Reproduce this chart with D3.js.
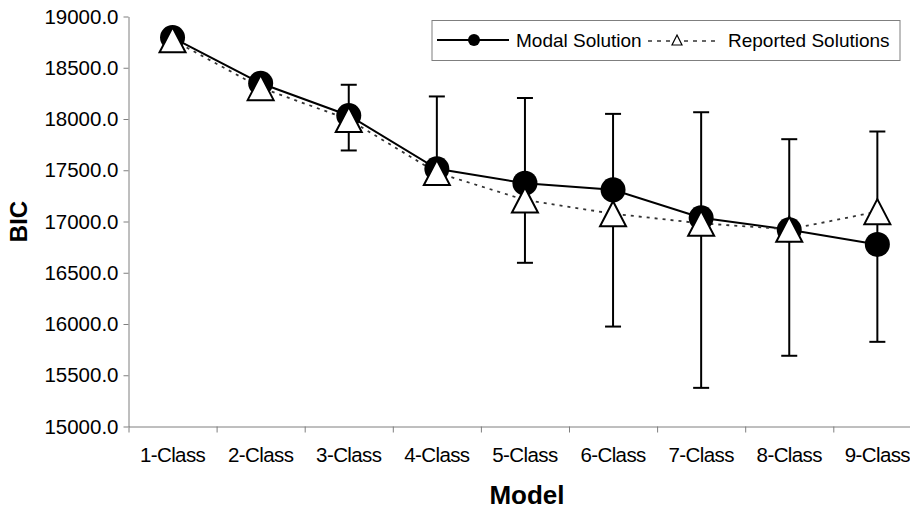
<!DOCTYPE html>
<html>
<head>
<meta charset="utf-8">
<script src="https://cdn.jsdelivr.net/npm/d3@7"></script>
<style>
  html, body { margin: 0; padding: 0; background: #fff; }
  svg { display: block; font-family: "Liberation Sans", Arial, Helvetica, sans-serif; }
</style>
</head>
<body>
<svg id="chart" width="910" height="512"></svg>
<script>
// BIC by number of latent classes
const categories = ["1-Class", "2-Class", "3-Class", "4-Class", "5-Class", "6-Class", "7-Class", "8-Class", "9-Class"];
const modalBIC    = [18795, 18349, 18034, 17514, 17374, 17309, 17036, 16919, 16776];
const reportedBIC = [18772, 18306, 17995, 17477, 17210, 17076, 16982, 16924, 17096];
// range of reported solutions (upper / lower end of each bar)
const rangeHigh = [null, null, 18334, 18220, 18205, 18050, 18066, 17803, 17878];
const rangeLow  = [null, null, 17693, 17477, 16597, 15975, 15377, 15690, 15826];
const yTicks = [15000, 15500, 16000, 16500, 17000, 17500, 18000, 18500, 19000];
const seriesNames = ["Modal Solution", "Reported Solutions"];

const svg = d3.select("#chart");
const plotLeft = 128.5, plotTop = 16.5, plotBottom = 426.5, step = 88.1;
const plotRight = plotLeft + step * categories.length;

const x = d3.scaleBand().domain(categories).range([plotLeft, plotRight]).padding(0);
const xEdge = d3.scaleLinear().domain([0, categories.length]).range([plotLeft, plotRight]);
const y = d3.scaleLinear().domain([15000, 19000]).range([plotBottom, plotTop]);
const cx = c => x(c) + x.bandwidth() / 2;

const axisColor = "#7f7f7f";

// y axis
const yAxis = svg.append("g")
  .attr("transform", `translate(${plotLeft},0)`)
  .call(d3.axisLeft(y).tickValues(yTicks).tickFormat(d3.format(".1f")).tickSize(5).tickSizeOuter(0).tickPadding(5));
yAxis.select(".domain").attr("stroke", axisColor);
yAxis.selectAll(".tick line").attr("stroke", axisColor);
yAxis.selectAll(".tick text").attr("fill", "#000").style("font-size", "20.5px");

// x axis: tick marks on category boundaries, labels at centres
const xAxis = svg.append("g")
  .attr("transform", `translate(0,${plotBottom})`)
  .call(d3.axisBottom(xEdge).tickValues(d3.range(0, categories.length + 1)).tickFormat("").tickSize(6).tickSizeOuter(0));
xAxis.select(".domain").attr("stroke", axisColor);
xAxis.selectAll(".tick line").attr("stroke", axisColor);

const xLabels = svg.append("g")
  .attr("transform", `translate(0,${plotBottom})`)
  .call(d3.axisBottom(x).tickSize(0).tickPadding(21));
xLabels.select(".domain").remove();
xLabels.selectAll(".tick text").attr("fill", "#000").style("font-size", "20.5px")
  .style("letter-spacing", "-0.6px");

// axis titles
svg.append("text")
  .attr("transform", `translate(27,${(plotTop + plotBottom) / 2}) rotate(-90)`)
  .attr("text-anchor", "middle")
  .style("font-size", "24px").style("font-weight", "bold")
  .text("BIC");
svg.append("text")
  .attr("x", 527).attr("y", 504)
  .attr("text-anchor", "middle")
  .style("font-size", "26px").style("font-weight", "bold")
  .text("Model");

// range bars
const bars = categories.map((c, i) => ({ c, hi: rangeHigh[i], lo: rangeLow[i] })).filter(d => d.hi != null);
const eb = svg.append("g").attr("stroke", "#000").attr("stroke-width", 2);
eb.selectAll("line.v").data(bars).join("line").attr("class", "v")
  .attr("x1", d => cx(d.c)).attr("x2", d => cx(d.c))
  .attr("y1", d => y(d.hi)).attr("y2", d => y(d.lo));
eb.selectAll("line.hi").data(bars).join("line").attr("class", "hi")
  .attr("x1", d => cx(d.c) - 8).attr("x2", d => cx(d.c) + 8)
  .attr("y1", d => y(d.hi)).attr("y2", d => y(d.hi));
eb.selectAll("line.lo").data(bars).join("line").attr("class", "lo")
  .attr("x1", d => cx(d.c) - 8).attr("x2", d => cx(d.c) + 8)
  .attr("y1", d => y(d.lo)).attr("y2", d => y(d.lo));

// lines
const line = d3.line().x(d => cx(d.c)).y(d => y(d.v));
const modalPts = categories.map((c, i) => ({ c, v: modalBIC[i] }));
const reportedPts = categories.map((c, i) => ({ c, v: reportedBIC[i] }));

svg.append("path").datum(modalPts).attr("d", line)
  .attr("fill", "none").attr("stroke", "#000").attr("stroke-width", 2);
svg.append("path").datum(reportedPts).attr("d", line)
  .attr("fill", "none").attr("stroke", "#333").attr("stroke-width", 1.8).attr("stroke-dasharray", "3,5");

// markers
const tri = (w, h) => `M0,${-h / 2}L${w / 2},${h / 2}L${-w / 2},${h / 2}Z`;
svg.append("g").selectAll("circle").data(modalPts).join("circle")
  .attr("cx", d => cx(d.c)).attr("cy", d => y(d.v)).attr("r", 12.5).attr("fill", "#000");
svg.append("g").selectAll("path").data(reportedPts).join("path")
  .attr("transform", d => `translate(${cx(d.c)},${y(d.v)})`)
  .attr("d", tri(26, 25)).attr("fill", "#fff").attr("stroke", "#000").attr("stroke-width", 2);

// legend
const lg = svg.append("g");
lg.append("rect").attr("x", 432).attr("y", 20.5).attr("width", 468).attr("height", 40)
  .attr("fill", "#fff").attr("stroke", "#7f7f7f").attr("stroke-width", 1);
lg.append("line").attr("x1", 437).attr("x2", 509).attr("y1", 40).attr("y2", 40)
  .attr("stroke", "#000").attr("stroke-width", 2);
lg.append("circle").attr("cx", 474).attr("cy", 40).attr("r", 6).attr("fill", "#000");
lg.append("text").attr("x", 516).attr("y", 47).style("font-size", "19px").text(seriesNames[0]);
lg.append("line").attr("x1", 648).attr("x2", 718).attr("y1", 41).attr("y2", 41)
  .attr("stroke", "#333").attr("stroke-width", 1.6).attr("stroke-dasharray", "4,5");
lg.append("path").attr("transform", "translate(677,40)").attr("d", tri(10, 10))
  .attr("fill", "#fff").attr("stroke", "#000").attr("stroke-width", 1.2);
lg.append("text").attr("x", 728).attr("y", 47).style("font-size", "19px").text(seriesNames[1]);
</script>
</body>
</html>
